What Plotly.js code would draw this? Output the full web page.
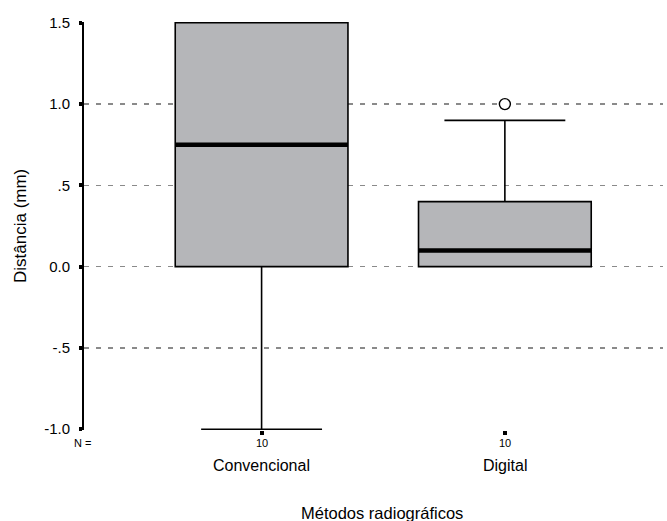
<!DOCTYPE html>
<html>
<head>
<meta charset="utf-8">
<script src="https://cdn.plot.ly/plotly-3.0.1.min.js"></script>
<style>html,body{margin:0;padding:0;background:#fff;}#chart{width:667px;height:521px;}</style>
</head>
<body>
<div id="chart"></div>
<script>
// Data
var categories = ["Convencional", "Digital"];
var nCounts = [10, 10];
var q1Values = [0.0, 0.0];
var medianValues = [0.75, 0.1];
var q3Values = [1.5, 0.4];
var lowerWhiskers = [-1.0, 0.0];
var upperWhiskers = [1.5, 0.9];
var outlierCategory = ["Digital"];
var outlierValues = [1.0];
var yTickValues = [-1.0, -0.5, 0.0, 0.5, 1.0, 1.5];
var yTickLabels = ["-1.0", "-.5", "0.0", ".5", "1.0", "1.5"];

var positions = categories.map(function (c, i) { return i; });
var boxWidth = 0.71;
var FONT = "Liberation Sans, Arial, sans-serif";

var traces = [];
traces.push({
  type: "box",
  x: positions,
  q1: q1Values,
  median: medianValues,
  q3: q3Values,
  lowerfence: lowerWhiskers,
  upperfence: upperWhiskers,
  width: boxWidth,
  whiskerwidth: 0.7,
  fillcolor: "#b5b6b9",
  line: { color: "#000", width: 1.6 },
  boxpoints: false,
  hoverinfo: "skip",
  showlegend: false
});
// thick median lines
positions.forEach(function (p, i) {
  traces.push({
    type: "scatter", mode: "lines",
    x: [p - boxWidth / 2, p + boxWidth / 2],
    y: [medianValues[i], medianValues[i]],
    line: { color: "#000", width: 4.5 },
    hoverinfo: "skip", showlegend: false
  });
});
// outliers
traces.push({
  type: "scatter", mode: "markers",
  x: outlierCategory.map(function (c) { return categories.indexOf(c); }),
  y: outlierValues,
  marker: { symbol: "circle", size: 11, color: "#fff", line: { width: 1.4, color: "#000" } },
  cliponaxis: false,
  hoverinfo: "skip", showlegend: false
});

var annotations = [];
positions.forEach(function (p, i) {
  annotations.push({ x: p, xref: "x", y: 443, yref: "paper", text: String(nCounts[i]), showarrow: false,
    xanchor: "center", yanchor: "middle", font: { family: FONT, size: 11, color: "#000" } });
  annotations.push({ x: p, xref: "x", y: 466, yref: "paper", text: categories[i], showarrow: false,
    xanchor: "center", yanchor: "middle", font: { family: FONT, size: 16, color: "#000" } });
});
annotations.push({ x: 82, xref: "paper", y: 443, yref: "paper", text: "N =", showarrow: false,
  xanchor: "center", yanchor: "middle", font: { family: FONT, size: 11, color: "#000" } });
annotations.push({ x: 382, xref: "paper", y: 513, yref: "paper", text: "Métodos radiográficos", showarrow: false,
  xanchor: "center", yanchor: "middle", font: { family: FONT, size: 16.5, color: "#000" } });
annotations.push({ x: 20, xref: "paper", y: 226, yref: "paper", text: "Distância (mm)", showarrow: false,
  textangle: -90, xanchor: "center", yanchor: "middle", font: { family: FONT, size: 17, color: "#000" } });

// convert pixel-based annotation anchors to paper fractions
var M = { l: 84, r: 4, t: 22, b: 91 };
var W = 667, H = 521;
var pw = W - M.l - M.r, ph = H - M.t - M.b;
annotations.forEach(function (a) {
  if (a.yref === "paper") a.y = (H - M.b - a.y) / ph;
  if (a.xref === "paper") a.x = (a.x - M.l) / pw;
});

var layout = {
  width: W, height: H,
  margin: M,
  paper_bgcolor: "#fff", plot_bgcolor: "#fff",
  font: { family: FONT, size: 15, color: "#000" },
  showlegend: false,
  xaxis: {
    range: [-0.73, 1.65],
    tickvals: positions, ticktext: ["", ""],
    ticks: "outside", ticklen: 4, tickwidth: 4, tickcolor: "#000",
    showgrid: false, zeroline: false, showline: false
  },
  yaxis: {
    range: [-1.005, 1.505],
    tickvals: yTickValues, ticktext: yTickLabels,
    ticks: "outside", ticklen: 3, tickwidth: 4, tickcolor: "#000",
    ticklabelstandoff: 6,
    tickfont: { family: FONT, size: 15, color: "#000" },
    showgrid: true, gridcolor: "#8a8a8a", gridwidth: 1.5, griddash: "5px,7px",
    zeroline: false, showline: true, linecolor: "#000", linewidth: 2
  },
  annotations: annotations
};

Plotly.newPlot("chart", traces, layout, { staticPlot: true, displayModeBar: false });
</script>
</body>
</html>
